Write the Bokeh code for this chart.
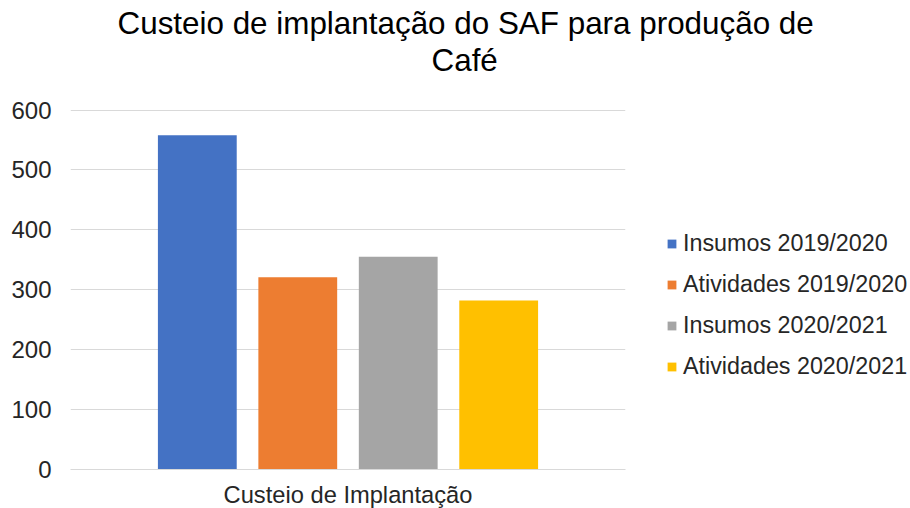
from bokeh.plotting import figure
from bokeh.models import FactorRange, Range1d, FixedTicker, Legend, LegendItem, Title, ColumnDataSource
from bokeh.transform import dodge
from bokeh.embed import file_html
from bokeh.resources import INLINE

title_lines = ["Custeio de implantação do SAF para produção de", "Café"]
categories = ["Custeio de Implantação"]
series_names = ["Insumos 2019/2020", "Atividades 2019/2020", "Insumos 2020/2021", "Atividades 2020/2021"]
series_values = [558, 321, 355, 282]
colors = ["#4472C4", "#ED7D31", "#A5A5A5", "#FFC000"]
y_ticks = [0, 100, 200, 300, 400, 500, 600]

FONT = "Liberation Sans"

p = figure(frame_width=555, frame_height=360, x_range=FactorRange(*categories), y_range=Range1d(0, 601),
           output_backend="svg", toolbar_location=None, title=None,
           min_border_left=70, min_border_right=285, min_border_top=109, min_border_bottom=39)
p.outline_line_color = None
p.background_fill_color = "white"
p.border_fill_color = "white"

offsets = [-0.2715, -0.0905, 0.0905, 0.2715]
items = []
for name, val, col, off in zip(series_names, series_values, colors, offsets):
    src = ColumnDataSource(dict(cat=categories, top=[val]))
    r = p.vbar(x=dodge("cat", off, range=p.x_range), top="top", width=0.142, source=src,
               fill_color=col, line_color=None)
    items.append(LegendItem(label=name, renderers=[r]))

legend = Legend(items=items, location=(41, 89), background_fill_alpha=0, border_line_color=None,
                label_text_font=FONT, label_text_font_size="23.3px", label_text_color="#262626",
                glyph_width=11, glyph_height=11, label_standoff=6, spacing=14, padding=0, margin=0)
p.add_layout(legend, "right")

p.yaxis.ticker = FixedTicker(ticks=y_ticks)
p.yaxis.axis_line_color = None
p.yaxis.major_tick_line_color = None
p.yaxis.minor_tick_line_color = None
p.yaxis.major_tick_out = 0
p.yaxis.major_tick_in = 0
p.yaxis.major_label_text_font = FONT
p.yaxis.major_label_text_font_size = "24px"
p.yaxis.major_label_text_color = "#262626"
p.yaxis.major_label_standoff = 19

p.xaxis.axis_line_color = "#D9D9D9"
p.xaxis.major_tick_line_color = None
p.xaxis.minor_tick_line_color = None
p.xaxis.major_tick_out = 0
p.xaxis.major_tick_in = 0
p.xaxis.major_label_text_font = FONT
p.xaxis.major_label_text_font_size = "23.7px"
p.xaxis.major_label_text_color = "#262626"
p.xaxis.major_label_standoff = 12

p.xgrid.grid_line_color = None
p.ygrid.grid_line_color = "#D9D9D9"
p.ygrid.grid_line_width = 1

# spacer between the plot area and the title block
p.add_layout(Title(text=" ", standoff=29, text_font_size="1px"), "above")
# title lines: bottom line first (closest to the plot)
p.add_layout(Title(text=title_lines[1], align="left", offset=361, standoff=0,
                   text_font=FONT, text_font_size="31.4px", text_font_style="normal",
                   text_color="#000000"), "above")
p.add_layout(Title(text=title_lines[0], align="left", offset=47, standoff=0,
                   text_font=FONT, text_font_size="31.4px", text_font_style="normal",
                   text_color="#000000"), "above")

open("out.html", "w").write(file_html(p, INLINE))
